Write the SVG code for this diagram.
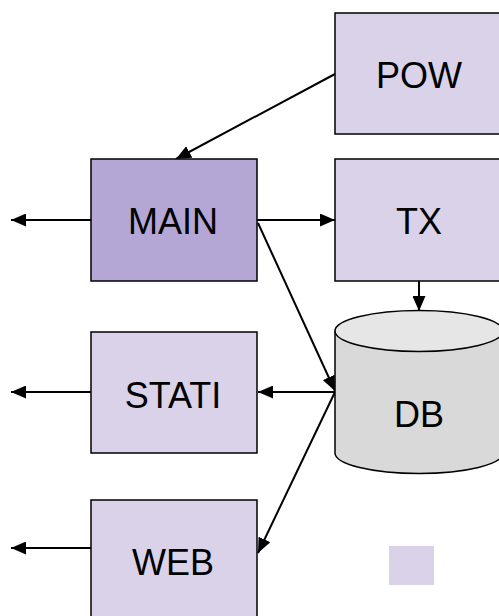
<svg xmlns="http://www.w3.org/2000/svg" width="499" height="616" viewBox="0 0 499 616">
  <style>
    .box { fill: #d9d2e9; stroke: #000; stroke-width: 1.5; }
    .main { fill: #b4a7d6; }
    .lbl { font-family: "Liberation Sans", Arial, sans-serif; font-size: 36px; fill: #000; text-anchor: middle; }
    .edge { stroke: #000; stroke-width: 2; fill: none; marker-end: url(#arrow); }
  </style>
  <defs>
    <marker id="arrow" markerUnits="userSpaceOnUse" markerWidth="15" markerHeight="13" refX="15" refY="6.5" orient="auto">
      <path d="M0,0 L15,6.5 L0,13 z" fill="#000"/>
    </marker>
  </defs>

  <rect width="499" height="616" fill="#fff"/>

  <g id="connectors">
    <line class="edge" x1="335" y1="74" x2="176" y2="159"/>
    <line class="edge" x1="91" y1="220" x2="11" y2="220"/>
    <line class="edge" x1="257" y1="220" x2="335" y2="220"/>
    <line class="edge" x1="258" y1="223" x2="335" y2="391"/>
    <line class="edge" x1="419" y1="281" x2="419" y2="311"/>
    <line class="edge" x1="335" y1="392" x2="258" y2="392"/>
    <line class="edge" x1="335" y1="392" x2="258" y2="553"/>
    <line class="edge" x1="91" y1="392" x2="11" y2="392"/>
    <line class="edge" x1="91" y1="548" x2="11" y2="548"/>
  </g>

  <g id="pow">
    <rect class="box" x="335" y="13" width="180" height="121"/>
    <text class="lbl" x="419" y="88">POW</text>
  </g>

  <g id="main">
    <rect class="box main" x="91" y="159" width="166" height="122"/>
    <text class="lbl" x="173" y="234">MAIN</text>
  </g>

  <g id="tx">
    <rect class="box" x="335" y="159" width="180" height="122"/>
    <text class="lbl" x="419" y="234">TX</text>
  </g>

  <g id="db">
    <path d="M335,331 L335,453 A84,20.5 0 0 0 503,453 L503,331" fill="#d9d9d9" stroke="#000" stroke-width="1.5"/>
    <ellipse cx="419" cy="331" rx="84" ry="20.5" fill="#e6e6e6" stroke="#000" stroke-width="1.5"/>
    <text class="lbl" x="419" y="427">DB</text>
  </g>

  <g id="stati">
    <rect class="box" x="91" y="332" width="166" height="121"/>
    <text class="lbl" x="173" y="408">STATI</text>
  </g>

  <g id="web">
    <rect class="box" x="91" y="500" width="166" height="130"/>
    <text class="lbl" x="173" y="575">WEB</text>
  </g>

  <g id="swatch">
    <rect x="389" y="546" width="45" height="39" fill="#d9d2e9"/>
  </g>
</svg>
